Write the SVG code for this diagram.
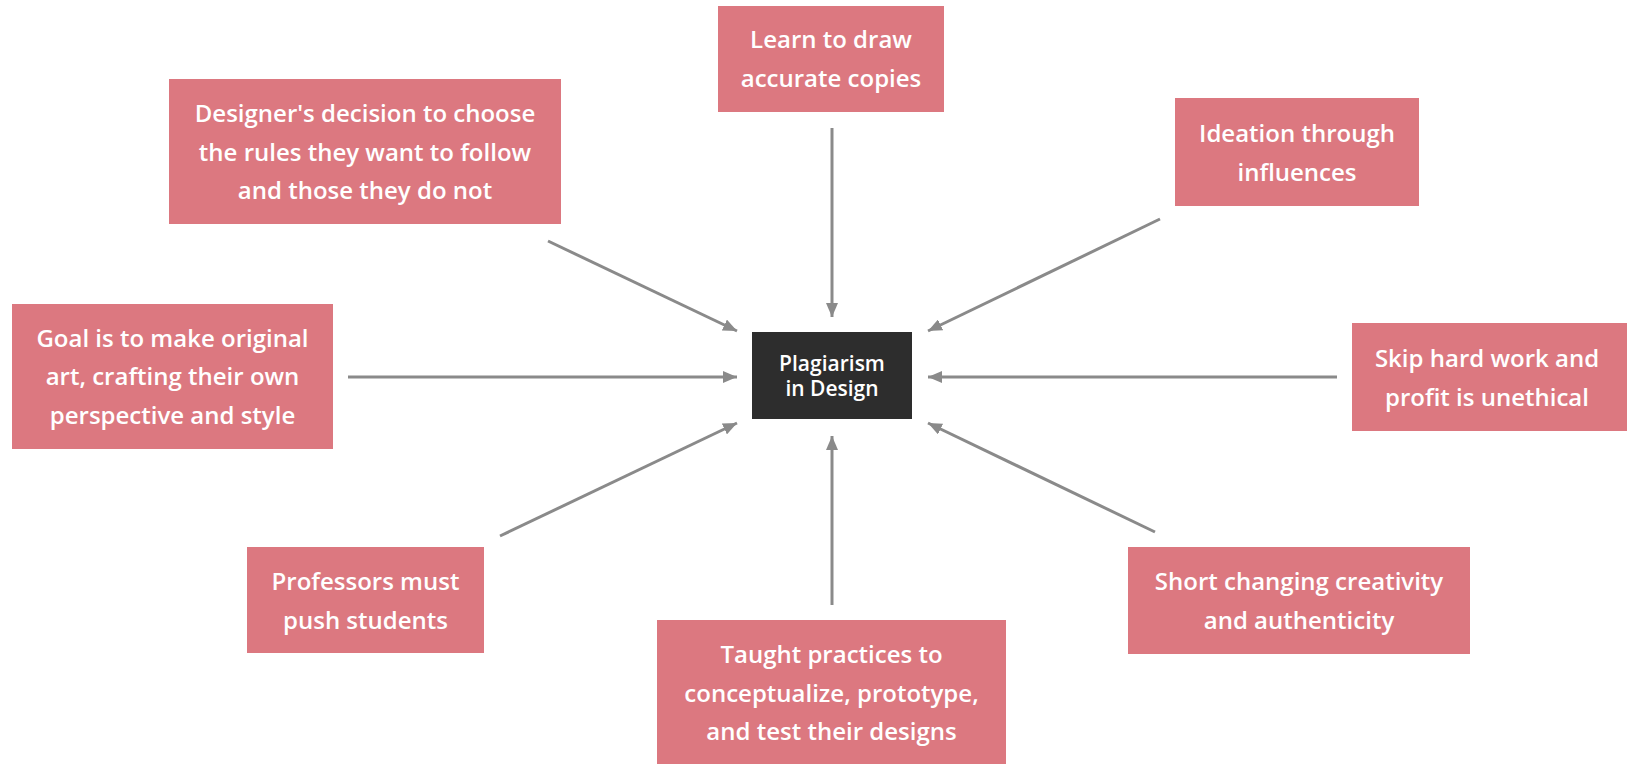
<svg xmlns="http://www.w3.org/2000/svg" width="1627" height="764" viewBox="0 0 1627 764">
<defs>
<style>
.box{fill:#DC7880;}
.hub{fill:#2D2D2D;}
.t{font-family:"Open Sans","Noto Sans","Liberation Sans",sans-serif;font-weight:600;font-size:24px;fill:#FFFFFF;text-anchor:middle;}
.h{font-family:"Open Sans","Noto Sans","Liberation Sans",sans-serif;font-weight:600;font-size:21px;fill:#FFFFFF;text-anchor:middle;}
.c{stroke:#8A8A8A;stroke-width:3;fill:none;marker-end:url(#ah);}
</style>
<marker id="ah" markerUnits="userSpaceOnUse" markerWidth="14" markerHeight="12" refX="14" refY="6" orient="auto">
<path d="M0,0 L14,6 L0,12 z" fill="#8A8A8A"/>
</marker>
</defs>
<rect width="1627" height="764" fill="#FFFFFF"/>
<g id="connectors">
<line class="c" x1="548" y1="241" x2="737" y2="331"/>
<line class="c" x1="832" y1="128" x2="832" y2="317"/>
<line class="c" x1="1160" y1="219" x2="928" y2="331"/>
<line class="c" x1="348" y1="377" x2="737" y2="377"/>
<line class="c" x1="1337" y1="377" x2="928" y2="377"/>
<line class="c" x1="500" y1="536" x2="737" y2="423"/>
<line class="c" x1="832" y1="605" x2="832" y2="436"/>
<line class="c" x1="1155" y1="532" x2="928" y2="423"/>
</g>
<g id="hub">
<rect class="hub" x="752" y="332" width="160" height="87"/>
<text class="h" x="832" y="371">Plagiarism</text>
<text class="h" x="832" y="396">in Design</text>
</g>
<g id="designer">
<rect class="box" x="169" y="79" width="392" height="145"/>
<text class="t" x="365" y="122">Designer's decision to choose</text>
<text class="t" x="365" y="160.5">the rules they want to follow</text>
<text class="t" x="365" y="199">and those they do not</text>
</g>
<g id="learn">
<rect class="box" x="718" y="6" width="226" height="106"/>
<text class="t" x="831" y="48">Learn to draw</text>
<text class="t" x="831" y="87">accurate copies</text>
</g>
<g id="ideation">
<rect class="box" x="1175" y="98" width="244" height="108"/>
<text class="t" x="1297" y="141.5">Ideation through</text>
<text class="t" x="1297" y="180.5">influences</text>
</g>
<g id="goal">
<rect class="box" x="12" y="304" width="321" height="145"/>
<text class="t" x="172.5" y="346.5">Goal is to make original</text>
<text class="t" x="172.5" y="385">art, crafting their own</text>
<text class="t" x="172.5" y="423.5">perspective and style</text>
</g>
<g id="skip">
<rect class="box" x="1352" y="323" width="275" height="108"/>
<text class="t" x="1487" y="366.5">Skip hard work and</text>
<text class="t" x="1487" y="405.5">profit is unethical</text>
</g>
<g id="professors">
<rect class="box" x="247" y="547" width="237" height="106"/>
<text class="t" x="365.5" y="589.5">Professors must</text>
<text class="t" x="365.5" y="628.5">push students</text>
</g>
<g id="taught">
<rect class="box" x="657" y="620" width="349" height="148"/>
<text class="t" x="831.5" y="663">Taught practices to</text>
<text class="t" x="831.5" y="701.5">conceptualize, prototype,</text>
<text class="t" x="831.5" y="740">and test their designs</text>
</g>
<g id="short">
<rect class="box" x="1128" y="547" width="342" height="107"/>
<text class="t" x="1299" y="590">Short changing creativity</text>
<text class="t" x="1299" y="629">and authenticity</text>
</g>
</svg>
